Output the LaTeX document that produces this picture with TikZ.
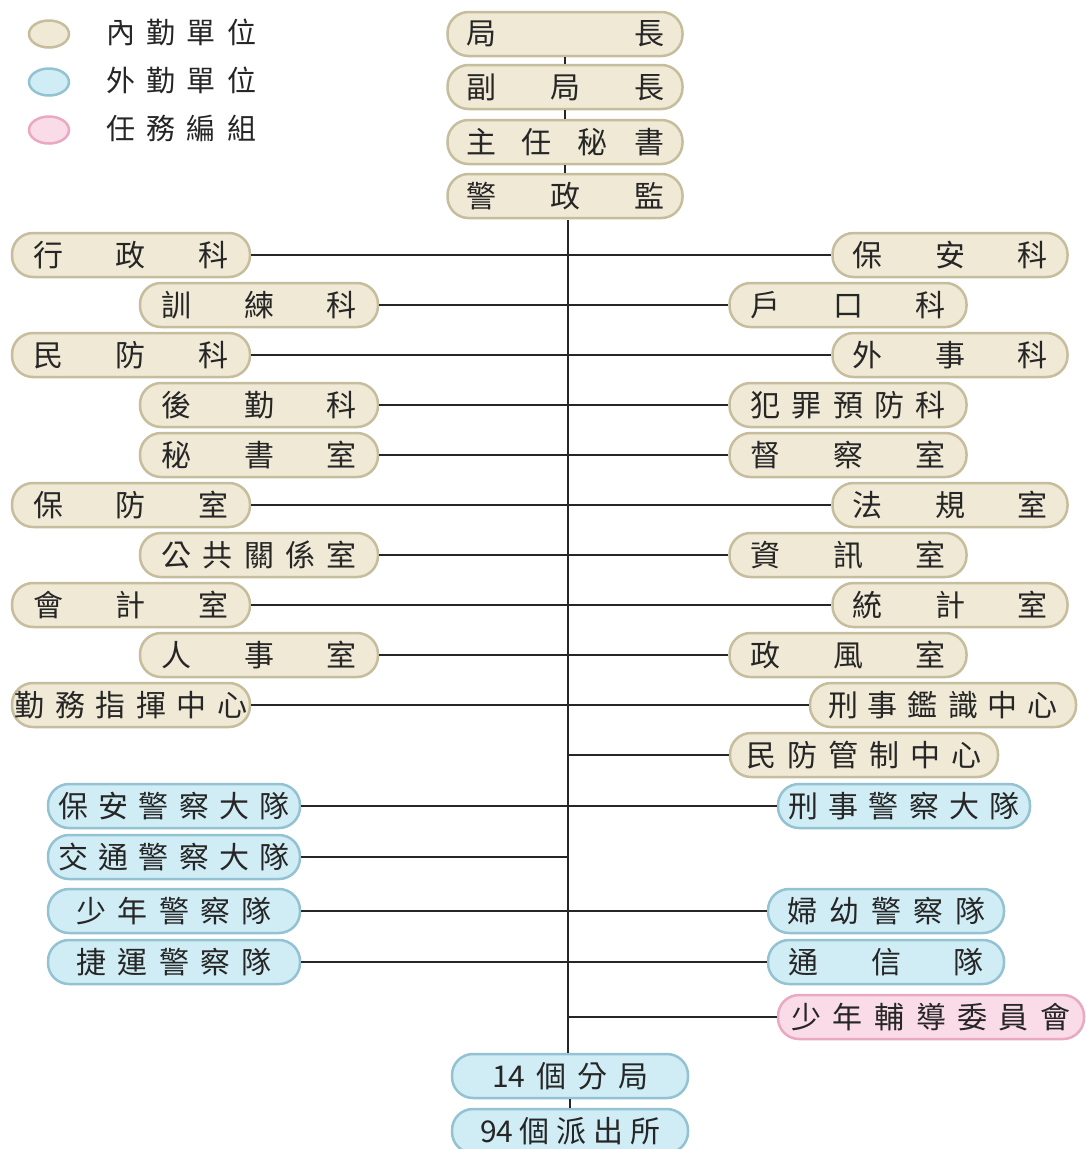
\documentclass[tikz,border=0pt]{standalone}
\usepackage{fontspec}
\newfontfamily\cjk{Noto Sans CJK TC}
\definecolor{inF}{HTML}{EFE9D6}
\definecolor{inB}{HTML}{C5BD9C}
\definecolor{outF}{HTML}{D0ECF5}
\definecolor{outB}{HTML}{93C3D2}
\definecolor{taskF}{HTML}{FADCE8}
\definecolor{taskB}{HTML}{EBA8C1}
\definecolor{txt}{HTML}{262626}
\newcommand{\sprd}[2]{\hbox to #1pt{#2}}
\usetikzlibrary{shapes.geometric}
\tikzset{
  box/.style={line width=2.5pt, rounded corners=21pt, minimum height=44pt, inner sep=0pt, text=txt, font=\cjk\fontsize{30}{33}\selectfont},
  inbox/.style={box, draw=inB, fill=inF},
  outbox/.style={box, draw=outB, fill=outF},
  taskbox/.style={box, draw=taskB, fill=taskF},
  conn/.style={line width=1.3pt, draw=black!85},
  legdot/.style={ellipse, minimum width=40pt, minimum height=27pt, line width=2.5pt, inner sep=0pt},
  legtxt/.style={anchor=west, inner sep=0pt, text=txt, font=\cjk\fontsize{29}{32}\selectfont}
}
\begin{document}
\begin{tikzpicture}[x=1pt,y=-1pt]
\useasboundingbox[fill=white] (0,0) rectangle (1086,1149);
% legend
\node[legdot, draw=inB, fill=inF] (l1) at (49,34) {};
\node[legdot, draw=outB, fill=outF] (l2) at (49,82) {};
\node[legdot, draw=taskB, fill=taskF] (l3) at (49,130) {};
\node[legtxt] (t1) at (106,32) {\sprd{150}{內\hfill 勤\hfill 單\hfill 位}};
\node[legtxt] (t2) at (106,80) {\sprd{150}{外\hfill 勤\hfill 單\hfill 位}};
\node[legtxt] (t3) at (106,128) {\sprd{150}{任\hfill 務\hfill 編\hfill 組}};
% top column
\node[inbox, minimum width=235pt] (ju) at (565,34) {\sprd{198}{局\hfill 長}};
\node[inbox, minimum width=235pt] (fu) at (565,87) {\sprd{198}{副\hfill 局\hfill 長}};
\node[inbox, minimum width=235pt] (zhu) at (565,142) {\sprd{198}{主\hfill 任\hfill 秘\hfill 書}};
\node[inbox, minimum width=235pt] (jing) at (565,196) {\sprd{198}{警\hfill 政\hfill 監}};
% left inner
\node[inbox, minimum width=238pt] (xz) at (131,255) {\sprd{195}{行\hfill 政\hfill 科}};
\node[inbox, minimum width=238pt] (xl) at (259,305) {\sprd{195}{訓\hfill 練\hfill 科}};
\node[inbox, minimum width=238pt] (mf) at (131,355) {\sprd{195}{民\hfill 防\hfill 科}};
\node[inbox, minimum width=238pt] (hq) at (259,405) {\sprd{195}{後\hfill 勤\hfill 科}};
\node[inbox, minimum width=238pt] (ms) at (259,455) {\sprd{195}{秘\hfill 書\hfill 室}};
\node[inbox, minimum width=238pt] (bf) at (131,505) {\sprd{195}{保\hfill 防\hfill 室}};
\node[inbox, minimum width=238pt] (gg) at (259,555) {\sprd{195}{公\hfill 共\hfill 關\hfill 係\hfill 室}};
\node[inbox, minimum width=238pt] (kj) at (131,605) {\sprd{195}{會\hfill 計\hfill 室}};
\node[inbox, minimum width=238pt] (rs) at (259,655) {\sprd{195}{人\hfill 事\hfill 室}};
\node[inbox, minimum width=238pt] (qw) at (131,705) {\sprd{233}{勤\hfill 務\hfill 指\hfill 揮\hfill 中\hfill 心}};
% right inner
\node[inbox, minimum width=235pt] (ba) at (950,255) {\sprd{195}{保\hfill 安\hfill 科}};
\node[inbox, minimum width=237pt] (hk) at (848,305) {\sprd{195}{戶\hfill 口\hfill 科}};
\node[inbox, minimum width=235pt] (ws) at (950,355) {\sprd{195}{外\hfill 事\hfill 科}};
\node[inbox, minimum width=237pt] (fz) at (848,405) {\sprd{195}{犯\hfill 罪\hfill 預\hfill 防\hfill 科}};
\node[inbox, minimum width=237pt] (dc) at (848,455) {\sprd{195}{督\hfill 察\hfill 室}};
\node[inbox, minimum width=235pt] (fg) at (950,505) {\sprd{195}{法\hfill 規\hfill 室}};
\node[inbox, minimum width=237pt] (zx) at (848,555) {\sprd{195}{資\hfill 訊\hfill 室}};
\node[inbox, minimum width=235pt] (tj) at (950,605) {\sprd{195}{統\hfill 計\hfill 室}};
\node[inbox, minimum width=237pt] (zf) at (848,655) {\sprd{195}{政\hfill 風\hfill 室}};
\node[inbox, minimum width=266pt] (xs) at (943,705) {\sprd{230}{刑\hfill 事\hfill 鑑\hfill 識\hfill 中\hfill 心}};
\node[inbox, minimum width=268pt] (mg) at (864,755) {\sprd{236}{民\hfill 防\hfill 管\hfill 制\hfill 中\hfill 心}};
% outer units
\node[outbox, minimum width=252pt] (bj) at (174,806) {\sprd{231}{保\hfill 安\hfill 警\hfill 察\hfill 大\hfill 隊}};
\node[outbox, minimum width=252pt] (xj) at (904,806) {\sprd{231}{刑\hfill 事\hfill 警\hfill 察\hfill 大\hfill 隊}};
\node[outbox, minimum width=252pt] (jt) at (174,857) {\sprd{231}{交\hfill 通\hfill 警\hfill 察\hfill 大\hfill 隊}};
\node[outbox, minimum width=252pt] (sn) at (174,911) {\sprd{195}{少\hfill 年\hfill 警\hfill 察\hfill 隊}};
\node[outbox, minimum width=236pt] (fy) at (886,911) {\sprd{198}{婦\hfill 幼\hfill 警\hfill 察\hfill 隊}};
\node[outbox, minimum width=252pt] (jy) at (174,962) {\sprd{195}{捷\hfill 運\hfill 警\hfill 察\hfill 隊}};
\node[outbox, minimum width=236pt] (tx) at (886,962) {\sprd{195}{通\hfill 信\hfill 隊}};
\node[taskbox, minimum width=306pt] (sf) at (931,1017) {\sprd{279}{少\hfill 年\hfill 輔\hfill 導\hfill 委\hfill 員\hfill 會}};
\node[outbox, minimum width=236pt] (fj) at (570,1076) {\sprd{156}{14\hfill 個\hfill 分\hfill 局}};
\node[outbox, minimum width=236pt] (pc) at (570,1131) {\sprd{180}{94\hfill 個\hfill 派\hfill 出\hfill 所}};
% trunk coordinates
\coordinate (tkA) at (568,220);
\coordinate (tkB) at (568,1053);
\coordinate (tk755) at (568,755);
\coordinate (tk857) at (568,857);
\coordinate (tk1017) at (568,1017);
% connectors
\draw[conn] (ju.south) -- (fu.north);
\draw[conn] (fu.south) -- (zhu.north);
\draw[conn] (zhu.south) -- (jing.north);
\draw[conn] (tkA) -- (tkB);
\draw[conn] (fj.south) -- (pc.north);
\draw[conn] (xz.east) -- (ba.west);
\draw[conn] (xl.east) -- (hk.west);
\draw[conn] (mf.east) -- (ws.west);
\draw[conn] (hq.east) -- (fz.west);
\draw[conn] (ms.east) -- (dc.west);
\draw[conn] (bf.east) -- (fg.west);
\draw[conn] (gg.east) -- (zx.west);
\draw[conn] (kj.east) -- (tj.west);
\draw[conn] (rs.east) -- (zf.west);
\draw[conn] (qw.east) -- (xs.west);
\draw[conn] (tk755) -- (mg.west);
\draw[conn] (bj.east) -- (xj.west);
\draw[conn] (jt.east) -- (tk857);
\draw[conn] (sn.east) -- (fy.west);
\draw[conn] (jy.east) -- (tx.west);
\draw[conn] (tk1017) -- (sf.west);
\end{tikzpicture}
\end{document}
